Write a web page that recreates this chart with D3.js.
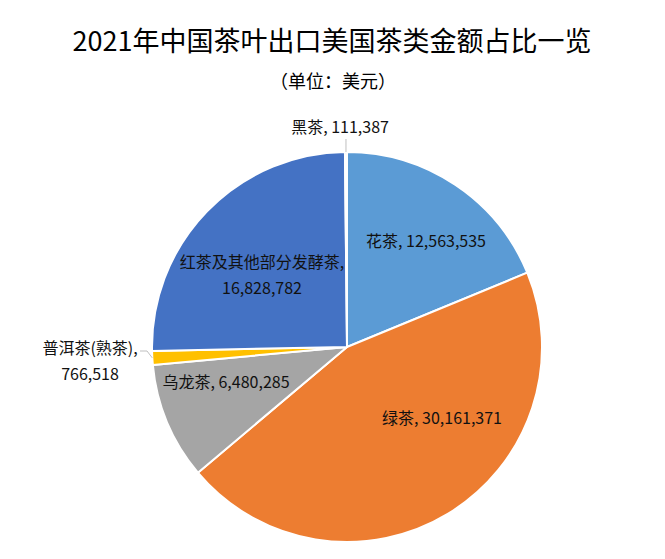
<!DOCTYPE html>
<html>
<head>
<meta charset="utf-8">
<script src="https://cdn.jsdelivr.net/npm/d3@7"></script>
<style>
  body { margin: 0; background: #fff; }
  svg { font-family: "Noto Sans CJK SC", "Noto Sans", sans-serif; }
</style>
</head>
<body>
<div id="chart"></div>
<script>
// slice order, clockwise from 12 o'clock
const categories = ['花茶', '绿茶', '乌龙茶', '普洱茶(熟茶)', '红茶及其他部分发酵茶', '黑茶'];
const amounts = [12563535, 30161371, 6480285, 766518, 16828782, 111387];
const colors = ['#5B9BD5', '#ED7D31', '#A5A5A5', '#FFC000', '#4472C4', '#264478'];

// label placement (offset from pie centre), and whether the value goes on a second line
const labelLayout = [
    { dx: 79, dy: -107, wrap: false },
    { dx: 95, dy: 70, wrap: false },
    { dx: -121, dy: 34, wrap: false },
    { dx: -257, dy: 13, wrap: true, leader: true },
    { dx: -85, dy: -73, wrap: true },
    { dx: -7, dy: -221, wrap: false, leader: true }
];

const width = 665, height = 559;
const cx = 347, cy = 347, radius = 195;

const svg = d3.select('#chart').append('svg')
    .attr('width', width)
    .attr('height', height);

svg.append('text')
    .attr('x', 332)
    .attr('y', 39)
    .attr('text-anchor', 'middle')
    .attr('dominant-baseline', 'central')
    .attr('font-size', '27px')
    .attr('fill', '#000')
    .text('2021年中国茶叶出口美国茶类金额占比一览');

svg.append('text')
    .attr('x', 333)
    .attr('y', 80)
    .attr('text-anchor', 'middle')
    .attr('dominant-baseline', 'central')
    .attr('font-size', '18px')
    .attr('fill', '#000')
    .text('（单位：美元）');

const data = categories.map((c, i) => ({ name: c, value: amounts[i], color: colors[i], layout: labelLayout[i] }));

const pie = d3.pie().sort(null).value(d => d.value);
const arcs = pie(data);
const arc = d3.arc().innerRadius(0).outerRadius(radius);

const g = svg.append('g').attr('transform', `translate(${cx},${cy})`);

g.selectAll('path.slice')
    .data(arcs)
    .enter().append('path')
    .attr('class', 'slice')
    .attr('d', arc)
    .attr('fill', d => d.data.color)
    .attr('stroke', '#fff')
    .attr('stroke-width', 2)
    .attr('stroke-linejoin', 'round');

const fmt = d3.format(',');

// leader lines for the outside labels
const edge = d3.arc().innerRadius(radius).outerRadius(radius);
arcs.filter(d => d.data.layout.leader).forEach(d => {
    const [ex, ey] = edge.centroid(d);
    const L = d.data.layout;
    let pts;
    if (L.wrap) {
        // short horizontal tail then down to the slice
        pts = [[L.dx + 50, L.dy - 9], [L.dx + 57, L.dy - 9], [ex, ey]];
    } else {
        pts = [[ex, L.dy + 13], [ex, ey]];
    }
    g.append('path')
        .attr('d', d3.line()(pts))
        .attr('fill', 'none')
        .attr('stroke', '#bfbfbf')
        .attr('stroke-width', 1);
});

arcs.forEach(d => {
    const L = d.data.layout;
    const lines = L.wrap
        ? [d.data.name + ',', fmt(d.data.value)]
        : [d.data.name + ', ' + fmt(d.data.value)];
    const lineH = 26;
    const t = g.append('text')
        .attr('text-anchor', 'middle')
        .attr('font-size', '16px')
        .attr('fill', '#111');
    lines.forEach((s, k) => {
        t.append('tspan')
            .attr('x', L.dx)
            .attr('y', L.dy + (k - (lines.length - 1) / 2) * lineH)
            .attr('dominant-baseline', 'central')
            .text(s);
    });
});
</script>
</body>
</html>
